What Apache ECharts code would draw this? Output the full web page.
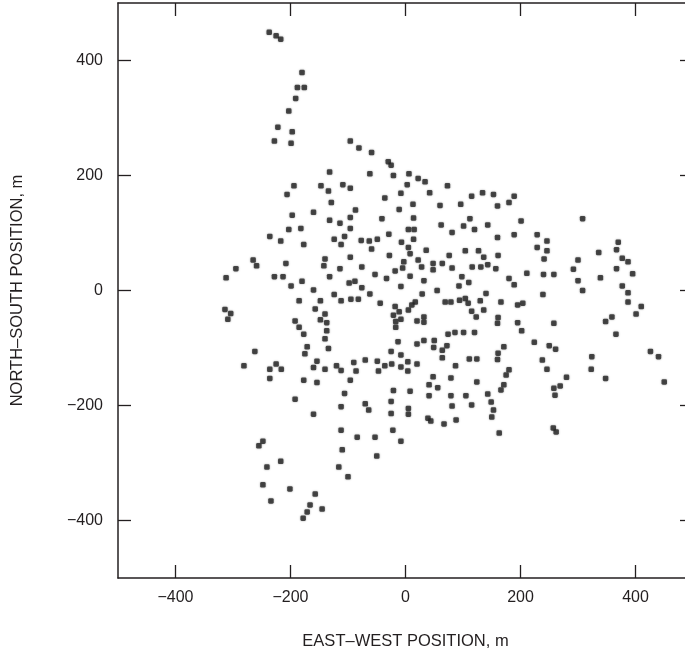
<!DOCTYPE html>
<html>
<head>
<meta charset="utf-8">
<script src="https://cdn.jsdelivr.net/npm/echarts@6/dist/echarts.min.js"></script>
<style>
  html, body { margin: 0; padding: 0; background: #fff; }
  #chart { width: 685px; height: 655px; }
</style>
</head>
<body>
<div id="chart"></div>
<script>
// Station positions, metres: [east-west, north-south]
const northGroup = [
  [-237,449],[-225,443],[-217,437],[-180,379],[-188,353],[-176,353],[-191,334],[-203,312],[-222,284],[-197,276],[-228,260],[-199,256],[-96,260],[-81,248]
];
const centralGroup = [
  [-59,240],[-30,224],[-25,218],[-62,203],[-21,200],[6,203],[3,184],[22,195],[34,189],[73,182],[42,170],[-8,169],[-36,161],[13,150],[-11,141],[60,148],[96,150],[115,164],[134,170],[153,167],[160,147],[180,153],[189,164],[-41,125],[14,126],[5,106],[15,106],[62,114],[81,101],[101,112],[112,125],[120,106],[143,114],[160,92],[189,97],[-29,98],[-63,86],[-49,89],[-59,72],[-7,84],[14,89],[5,75],[8,64],[36,70],[-28,61],[22,53],[-3,50],[-5,39],[28,41],[48,47],[48,36],[64,47],[76,61],[81,39],[104,69],[127,69],[136,58],[161,61],[116,41],[131,41],[143,45],[157,38],[-18,34],[-53,28],[-33,21],[8,25],[32,17],[98,24],[110,14],[93,8],[180,21],[-8,7],[-62,-6],[29,-6],[55,0],[140,-5],[189,10]
];
const westGroup = [
  [-132,206],[-194,182],[-206,167],[-147,182],[-134,173],[-109,184],[-96,178],[-129,153],[-197,131],[-160,136],[-87,140],[-96,127],[-132,122],[-114,117],[-203,106],[-182,108],[-96,108],[-236,94],[-217,86],[-177,80],[-124,89],[-106,94],[-112,80],[-77,87],[-265,53],[-259,43],[-295,38],[-312,22],[-208,47],[-140,55],[-142,43],[-96,58],[-114,38],[-76,41],[-228,24],[-213,24],[-199,8],[-180,16],[-132,24],[-160,1],[-124,-7],[-98,13],[-88,16],[-76,5],
  [-314,-33],[-304,-40],[-309,-50],[-185,-18],[-148,-18],[-112,-18],[-95,-15],[-82,-15],[-157,-32],[-140,-41],[-148,-51],[-137,-56],[-192,-53],[-185,-64],[-177,-76],[-137,-70],[-140,-84],[-171,-98],[-175,-110],[-134,-101],[-262,-106],[-281,-131],[-236,-137],[-225,-128],[-216,-137],[-236,-153],[-160,-134],[-154,-123],[-140,-137],[-120,-131],[-112,-139],[-90,-125],[-70,-121],[-86,-140],[-177,-156],[-154,-160],[-96,-156],[-106,-179],[-192,-189],[-112,-202],[-160,-215],[-70,-197]
];
const southGroup = [
  [-44,-22],[17,-20],[69,-20],[79,-20],[94,-17],[104,-14],[109,-22],[130,-18],[166,-20],[-18,-28],[-11,-37],[5,-34],[11,-25],[-21,-43],[-8,-50],[-17,-54],[-17,-64],[20,-53],[32,-46],[32,-55],[115,-36],[123,-46],[136,-34],[161,-47],[160,-57],[74,-76],[86,-73],[101,-73],[120,-73],[-13,-89],[20,-93],[32,-87],[50,-87],[49,-99],[72,-96],[64,-104],[64,-117],[171,-98],[161,-109],[160,-120],[-49,-123],[-25,-106],[-8,-112],[-36,-131],[-24,-128],[-47,-140],[-8,-133],[4,-124],[4,-140],[20,-128],[87,-131],[111,-119],[124,-119],[180,-138],[175,-147],[48,-150],[41,-164],[56,-169],[79,-152],[124,-159],[171,-164],[166,-173],[-21,-174],[8,-175],[41,-183],[79,-183],[105,-183],[143,-180],[149,-194],[81,-201],[115,-199],[-25,-193],[-64,-208],[-25,-214],[5,-205],[5,-215],[39,-222],[153,-208],[150,-220],
  [-255,-270],[-248,-262],[-217,-297],[-241,-307],[-248,-338],[-234,-366],[-201,-345],[-157,-354],[-178,-396],[-171,-385],[-166,-373],[-145,-380],[-116,-307],[-100,-324],[-110,-277],[-84,-255],[-53,-255],[-50,-288],[-22,-243],[-8,-262],[-112,-243],[44,-227],[67,-232],[88,-225],[163,-248],[257,-239],[262,-246]
];
const eastGroup = [
  [201,121],[229,97],[246,86],[229,75],[246,69],[241,55],[308,125],[370,84],[367,71],[336,66],[377,56],[387,50],[300,53],[292,37],[367,38],[395,29],[211,30],[240,28],[258,28],[300,17],[339,22],[308,0],[377,8],[387,-4],[239,-7],
  [195,-25],[204,-22],[195,-56],[202,-70],[258,-57],[224,-90],[250,-96],[261,-102],[238,-121],[246,-137],[280,-151],[269,-166],[258,-170],[260,-182],[387,-20],[410,-28],[401,-41],[359,-46],[348,-54],[366,-76],[324,-115],[323,-137],[348,-153],[426,-106],[440,-115],[450,-159]
];

const axisMin = -500;
const axisMax = 500;
const tickValues = [-400, -200, 0, 200, 400];
const xTitle = 'EAST\u2013WEST POSITION, m';
const yTitle = 'NORTH\u2013SOUTH POSITION, m';

const ink = '#231f20';
const fontFamily = '"Liberation Sans", Arial, Helvetica, sans-serif';
const tickLabel = v => String(v).replace('-', '\u2212');

function axisBase(position, withLabels, extra) {
  return Object.assign({
    type: 'value',
    position: position,
    min: axisMin,
    max: axisMax,
    interval: 100,
    splitLine: { show: false },
    axisLine: { show: true, onZero: false, lineStyle: { color: ink, width: 1.5 } },
    axisTick: {
      show: true, inside: true, length: 13,
      customValues: tickValues,
      lineStyle: { color: ink, width: 1.3 }
    },
    axisLabel: {
      show: withLabels,
      customValues: tickValues,
      color: ink, fontSize: 16, fontFamily: fontFamily,
      formatter: tickLabel
    }
  }, extra || {});
}

const chart = echarts.init(document.getElementById('chart'), null, { renderer: 'canvas' });

const xBottom = axisBase('bottom', true, {
  name: xTitle, nameLocation: 'middle', nameGap: 55,
  nameTextStyle: { color: ink, fontSize: 16.5, fontFamily: fontFamily }
});
xBottom.axisLabel.margin = 12;
const yLeft = axisBase('left', true, {
  name: yTitle, nameLocation: 'middle', nameGap: 92,
  nameTextStyle: { color: ink, fontSize: 16.5, fontFamily: fontFamily }
});
yLeft.axisLabel.margin = 15;

chart.setOption({
  animation: false,
  backgroundColor: '#fff',
  // the right frame edge sits just past the canvas edge
  grid: { left: 118, top: 3, right: -8, bottom: 77, containLabel: false, outerBoundsMode: 'none' },
  xAxis: [xBottom, axisBase('top', false)],
  yAxis: [yLeft, axisBase('right', false)],
  series: [northGroup, centralGroup, westGroup, southGroup, eastGroup].map(group => ({
    type: 'scatter',
    xAxisIndex: 0,
    yAxisIndex: 0,
    data: group,
    symbol: 'roundRect',
    symbolSize: 5.5,
    itemStyle: {
      color: '#262626',
      shadowBlur: 2,
      shadowColor: 'rgba(0,0,0,0.45)'
    },
    silent: true
  }))
});
</script>
</body>
</html>
